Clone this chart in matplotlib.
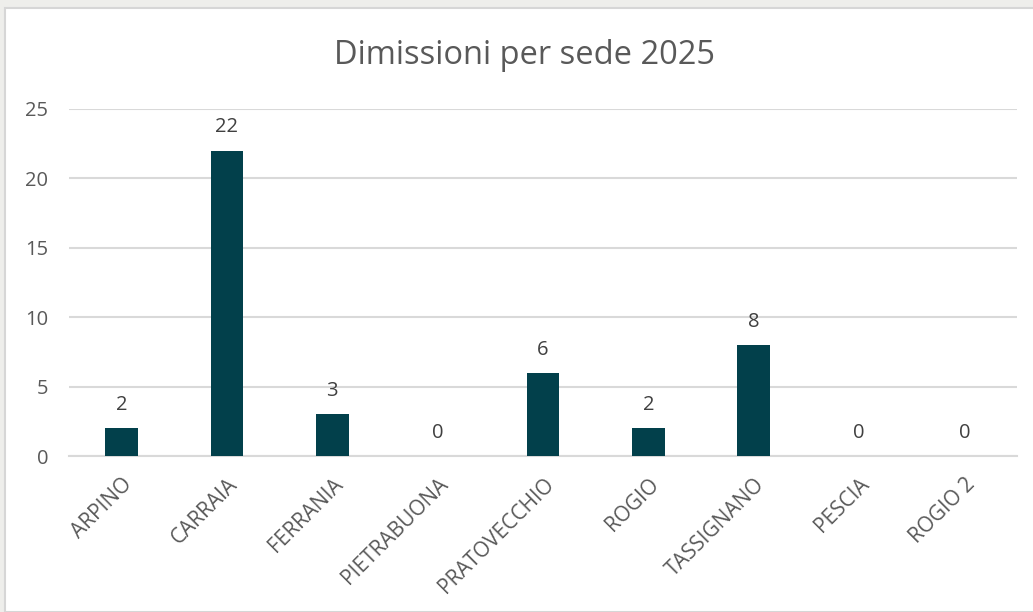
import matplotlib.pyplot as plt
from matplotlib.patches import Rectangle

# data
sedi = ["ARPINO", "CARRAIA", "FERRANIA", "PIETRABUONA", "PRATOVECCHIO",
        "ROGIO", "TASSIGNANO", "PESCIA", "ROGIO 2"]
dimissioni = [2, 22, 3, 0, 6, 2, 8, 0, 0]
y_ticks = [0, 5, 10, 15, 20, 25]

plt.rcParams["font.family"] = ["Open Sans", "DejaVu Sans"]

bar_color = "#02404b"
text_color = "#595959"
grid_color = "#d9d9d9"

fig = plt.figure(figsize=(10.33, 6.12), dpi=100)
fig.patch.set_facecolor("#eeeeeb")

# white chart panel
panel = Rectangle((5 / 1033, 0), 1.0, 1 - 8 / 612, transform=fig.transFigure,
                  facecolor="white", edgecolor="#d6d6d6", linewidth=1.5, zorder=-5)
fig.patches.append(panel)

ax = fig.add_axes([69 / 1033, 1 - 456 / 612, (1017 - 69) / 1033, (456 - 109) / 612])
ax.set_facecolor("none")
ax.set_zorder(2)

x = range(len(sedi))
bars = ax.bar(x, dimissioni, width=0.31, color=bar_color, zorder=3)

# value labels above bars
for xi, v in zip(x, dimissioni):
    ax.annotate(str(v), (xi, v), xytext=(0, 9.5), textcoords="offset points",
                ha="center", va="bottom", fontsize=14.5, color="#404040")

ax.set_xlim(-0.5, len(sedi) - 0.5)
ax.set_ylim(0, 25)
ax.set_yticks(y_ticks)
ax.yaxis.grid(True, color=grid_color, linewidth=1.5, zorder=0)
ax.set_axisbelow(True)

for s in ["top", "right", "left"]:
    ax.spines[s].set_visible(False)
ax.spines["bottom"].set_color(grid_color)
ax.spines["bottom"].set_linewidth(1.5)

ax.tick_params(axis="y", length=0, labelsize=14.5, labelcolor=text_color, pad=15)
ax.set_xticks(list(x))
ax.set_xticklabels(sedi, rotation=45, ha="right", va="top", rotation_mode="anchor")
ax.tick_params(axis="x", length=0, labelsize=15, labelcolor=text_color, pad=13)

fig.text(525 / 1033, 1 - 55 / 612, "Dimissioni per sede 2025", ha="center", va="center",
         fontsize=23.5, color=text_color)

fig.savefig("out.png", dpi=100, facecolor=fig.get_facecolor())
